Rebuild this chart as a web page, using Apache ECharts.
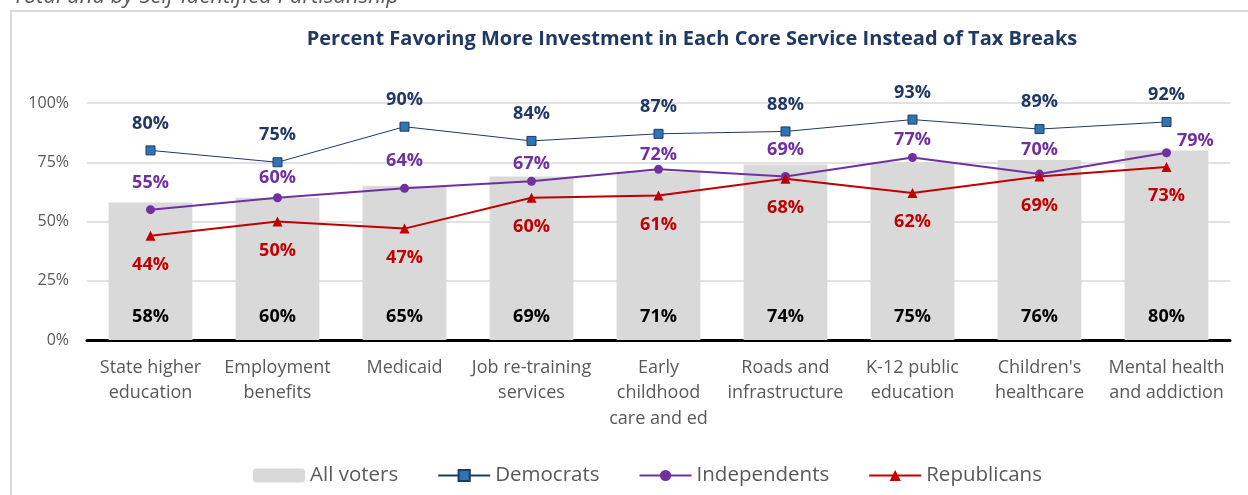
<!DOCTYPE html>
<html>
<head>
<meta charset="utf-8">
<script src="https://cdn.jsdelivr.net/npm/echarts@6/dist/echarts.min.js"></script>
<style>
  html, body { margin: 0; padding: 0; background: #fff; }
  #main { width: 1248px; height: 495px; }
</style>
</head>
<body>
<div id="main"></div>
<script>
const categories = ['State higher\neducation', 'Employment\nbenefits', 'Medicaid', 'Job re-training\nservices',
  'Early\nchildhood\ncare and ed', 'Roads and\ninfrastructure', 'K-12 public\neducation', "Children's\nhealthcare",
  'Mental health\nand addiction'];
const allVoters = [58, 60, 65, 69, 71, 74, 75, 76, 80];
const democrats = [80, 75, 90, 84, 87, 88, 93, 89, 92];
const independents = [55, 60, 64, 67, 72, 69, 77, 70, 79];
const republicans = [44, 50, 47, 60, 61, 68, 62, 69, 73];
const yTicks = [0, 25, 50, 75, 100];

const FONT = 'Open Sans';
const chart = echarts.init(document.getElementById('main'));

// hand-placed Independents labels: gap above the point, last one to the right
const indGap = [13, 6, 14, 4, 1, 13, 4, 11];
const indData = independents.map((v, i) => i < indGap.length
  ? { value: v, label: { distance: indGap[i] } }
  : { value: v, label: { position: 'right', distance: 6, offset: [0, -12] } });

const option = {
  animation: false,
  textStyle: { fontFamily: FONT },
  title: {
    text: 'Percent Favoring More Investment in Each Core Service Instead of Tax Breaks',
    left: 687,
    textAlign: 'center',
    top: 24,
    textStyle: { color: '#203864', fontSize: 20, fontWeight: 'bold', fontFamily: FONT }
  },
  graphic: [
    {
      type: 'rect',
      shape: { x: 11, y: 11, width: 1260, height: 520 },
      style: { fill: 'none', stroke: '#d9d9d9', lineWidth: 2 }
    },
    {
      type: 'text',
      x: 13,
      y: 8,
      style: {
        text: 'Total and by Self-Identified Partisanship',
        fill: '#595959',
        font: 'italic 22px "Open Sans"',
        verticalAlign: 'bottom'
      }
    }
  ],
  legend: {
    data: ['All voters', 'Democrats', 'Independents', 'Republicans'],
    left: 248,
    top: 460,
    itemWidth: 52,
    itemHeight: 14,
    itemGap: 39,
    selectedMode: false,
    textStyle: { color: '#595959', fontSize: 20.5, fontFamily: FONT }
  },
  grid: { left: 87, right: 18, top: 103, bottom: 155 },
  xAxis: {
    type: 'category',
    data: categories,
    axisLine: { lineStyle: { color: '#000', width: 3 } },
    axisTick: { show: false },
    axisLabel: { interval: 0, color: '#595959', fontSize: 18, lineHeight: 25.5, margin: 15, fontFamily: FONT }
  },
  yAxis: {
    type: 'value',
    min: yTicks[0],
    max: yTicks[yTicks.length - 1],
    interval: 25,
    axisLine: { show: false },
    axisTick: { show: false },
    splitLine: { lineStyle: { color: '#d9d9d9', width: 1.5 } },
    axisLabel: { formatter: '{value}%', color: '#595959', fontSize: 16, margin: 18, fontFamily: FONT }
  },
  series: [
    {
      name: 'All voters',
      type: 'bar',
      data: allVoters,
      barCategoryGap: '34%',
      itemStyle: { color: '#d9d9d9' },
      label: {
        show: true, position: 'insideBottom', distance: 14,
        formatter: '{c}%', color: '#000', fontSize: 18, fontWeight: 'bold', fontFamily: FONT
      }
    },
    {
      name: 'Democrats',
      type: 'line',
      data: democrats,
      symbol: 'rect',
      symbolSize: 9,
      lineStyle: { color: '#203864', width: 1 },
      itemStyle: { color: '#2e75b6', borderColor: '#203864', borderWidth: 1 },
      label: {
        show: true, position: 'top', distance: 13,
        formatter: '{c}%', color: '#203864', fontSize: 18, fontWeight: 'bold', fontFamily: FONT
      }
    },
    {
      name: 'Independents',
      type: 'line',
      data: indData,
      symbol: 'circle',
      symbolSize: 9,
      lineStyle: { color: '#7030a0', width: 2 },
      itemStyle: { color: '#7030a0' },
      label: {
        show: true, position: 'top', distance: 13,
        formatter: '{c}%', color: '#7030a0', fontSize: 18, fontWeight: 'bold', fontFamily: FONT
      }
    },
    {
      name: 'Republicans',
      type: 'line',
      data: republicans,
      symbol: 'triangle',
      symbolSize: 10,
      lineStyle: { color: '#c00000', width: 2 },
      itemStyle: { color: '#c00000' },
      label: {
        show: true, position: 'bottom', distance: 15,
        formatter: '{c}%', color: '#c00000', fontSize: 18, fontWeight: 'bold', fontFamily: FONT
      }
    }
  ]
};
chart.setOption(option);
window.addEventListener('resize', () => {
  chart.resize();
});
</script>
</body>
</html>
